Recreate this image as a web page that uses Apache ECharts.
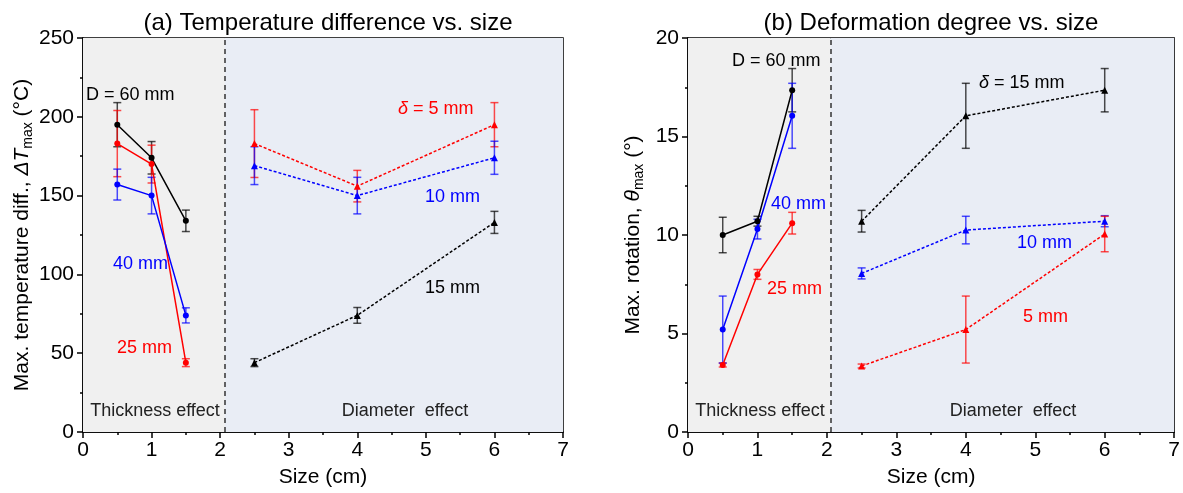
<!DOCTYPE html>
<html>
<head>
<meta charset="UTF-8">
<title>Temperature difference / deformation vs. size</title>
<script src="https://cdn.jsdelivr.net/npm/echarts@6/dist/echarts.min.js"></script>
<style>
  html, body { margin: 0; padding: 0; background: #fff; }
  #main { width: 1183px; height: 493px; }
</style>
</head>
<body>
<div id="main"></div>
<script type="text/javascript">
// x positions (cm)
var sizeThick = [0.5, 1, 1.5];   // thickness effect
var sizeDiam = [2.5, 4, 6];      // diameter effect

// (a) temperature difference (°C)
var tD60 = [195, 174, 134],  tD60Err = [14, 10.3, 6.8];
var tD25 = [183, 170, 44],   tD25Err = [21, 12, 2.5];
var tD40 = [157, 150, 74],   tD40Err = [9.8, 11.6, 4.8];
var tDel5 = [183, 156, 195], tDel5Err = [21.5, 10, 14];
var tDel10 = [169, 150, 174], tDel10Err = [12, 11.6, 10.5];
var tDel15 = [44, 74, 133],  tDel15Err = [2.5, 5, 7];

// (b) max rotation (°)
var rD60 = [10.0, 10.7, 17.35], rD60Err = [0.9, 0.25, 1.1];
var rD25 = [3.4, 8.0, 10.6],    rD25Err = [0.1, 0.25, 0.55];
var rD40 = [5.2, 10.3, 16.05],  rD40Err = [1.7, 0.5, 1.65];
var rDel15 = [10.7, 16.05, 17.35], rDel15Err = [0.55, 1.65, 1.1];
var rDel10 = [8.05, 10.25, 10.7],  rDel10Err = [0.28, 0.7, 0.28];
var rDel5 = [3.35, 5.2, 10.05],    rDel5Err = [0.1, 1.7, 0.9];

var RED = '#ff0000', BLUE = '#0000ff', BLACK = '#000000';
var FONT = 'Liberation Sans, Arial, sans-serif';

function pts(xs, ys) {
  return xs.map(function (x, i) { return [x, ys[i]]; });
}
function errPts(xs, ys, es) {
  return xs.map(function (x, i) { return [x, ys[i] - es[i], ys[i] + es[i]]; });
}

function lineSeries(idx, xs, ys, color, dashed) {
  return {
    type: 'line',
    xAxisIndex: idx, yAxisIndex: idx,
    data: pts(xs, ys),
    symbol: dashed ? 'triangle' : 'circle',
    symbolSize: dashed ? 7 : 6,
    itemStyle: { color: color },
    lineStyle: { color: color, width: 1.5, type: dashed ? [3, 2] : 'solid' },
    z: 5,
    silent: true
  };
}

function errSeries(idx, xs, ys, es, color) {
  return {
    type: 'custom',
    xAxisIndex: idx, yAxisIndex: idx,
    data: errPts(xs, ys, es),
    encode: { x: 0, y: [1, 2] },
    z: 4,
    silent: true,
    renderItem: function (params, api) {
      var x = api.value(0);
      var top = api.coord([x, api.value(2)]);
      var bot = api.coord([x, api.value(1)]);
      var w = 4;
      var st = { stroke: color, lineWidth: 1.5, opacity: 0.7 };
      return {
        type: 'group',
        children: [
          { type: 'line', shape: { x1: top[0], y1: top[1], x2: bot[0], y2: bot[1] }, style: st },
          { type: 'line', shape: { x1: top[0] - w, y1: top[1], x2: top[0] + w, y2: top[1] }, style: st },
          { type: 'line', shape: { x1: bot[0] - w, y1: bot[1], x2: bot[0] + w, y2: bot[1] }, style: st }
        ]
      };
    }
  };
}

function bgSeries(idx, split) {
  return {
    type: 'line',
    xAxisIndex: idx, yAxisIndex: idx,
    data: [],
    silent: true,
    markArea: {
      silent: true,
      label: { show: false },
      data: [
        [{ xAxis: 0, itemStyle: { color: '#f0f0f0' } }, { xAxis: split }],
        [{ xAxis: split, itemStyle: { color: '#e9edf5' } }, { xAxis: 7 }]
      ]
    },
    markLine: {
      silent: true,
      symbol: 'none',
      label: { show: false },
      lineStyle: { color: '#333', width: 1.5, type: [5, 4] },
      data: [{ xAxis: split }]
    }
  };
}

function xAxisOpt(idx) {
  return {
    type: 'value', gridIndex: idx, min: 0, max: 7, interval: 1,
    name: 'Size (cm)', nameLocation: 'middle', nameGap: 35,
    nameTextStyle: { color: '#000', fontSize: 21, fontFamily: FONT },
    axisLine: { lineStyle: { color: '#000', width: 1.5 } },
    axisTick: { length: 6, lineStyle: { color: '#000', width: 1.5 } },
    minorTick: { show: true, splitNumber: 2, length: 3, lineStyle: { color: '#000', width: 1.5 } },
    axisLabel: { color: '#000', fontSize: 21, fontFamily: FONT, margin: 8 },
    splitLine: { show: false }
  };
}

var richY = {
  a: { fontSize: 21, fontFamily: FONT, color: '#000', lineHeight: 26 },
  i: { fontSize: 21, fontFamily: FONT, color: '#000', fontStyle: 'italic', lineHeight: 26 },
  s: { fontSize: 14, fontFamily: FONT, color: '#000', lineHeight: 14, verticalAlign: 'bottom' }
};

function yAxisOpt(idx, max, interval, name) {
  return {
    type: 'value', gridIndex: idx, min: 0, max: max, interval: interval,
    name: name, nameLocation: 'middle', nameGap: 42,
    nameTextStyle: { rich: richY, fontSize: 21, fontFamily: FONT, color: '#000' },
    axisLine: { show: true, lineStyle: { color: '#000', width: 1.5 } },
    axisTick: { length: 6, lineStyle: { color: '#000', width: 1.5 } },
    minorTick: { show: true, splitNumber: 2, length: 3, lineStyle: { color: '#000', width: 1.5 } },
    axisLabel: { color: '#000', fontSize: 21, fontFamily: FONT, margin: 9 },
    splitLine: { show: false }
  };
}

function txt(x, y, text, color, align) {
  return {
    type: 'text', x: x, y: y, z: 100, silent: true,
    style: {
      text: text, fill: color || '#000', font: '18px ' + FONT,
      align: align || 'left', verticalAlign: 'middle',
      rich: {
        i: { fontStyle: 'italic', fontSize: 18, fontFamily: FONT, fill: color || '#000' }
      }
    }
  };
}

var myChart = echarts.init(document.getElementById('main'));

var option = {
  animation: false,
  backgroundColor: '#fff',
  title: [
    { text: '(a) Temperature difference vs. size', left: 323, top: 6, textAlign: 'center',
      textStyle: { fontSize: 24, fontWeight: 'normal', color: '#000', fontFamily: FONT } },
    { text: '(b) Deformation degree vs. size', left: 926, top: 6, textAlign: 'center',
      textStyle: { fontSize: 24, fontWeight: 'normal', color: '#000', fontFamily: FONT } }
  ],
  grid: [
    { left: 83, top: 38, width: 480, height: 395, show: true, borderColor: '#000', borderWidth: 1.5, backgroundColor: 'transparent' },
    { left: 688, top: 38, width: 492, height: 395, show: true, borderColor: '#000', borderWidth: 1.5, backgroundColor: 'transparent' }
  ],
  xAxis: [xAxisOpt(0), xAxisOpt(1)],
  yAxis: [
    yAxisOpt(0, 250, 50, '{a|Max. temperature diff., }{i|ΔT}{s|max}{a| (°C)}'),
    yAxisOpt(1, 20, 5, '{a|Max. rotation, }{i|θ}{s|max}{a| (°)}')
  ],
  series: [
    bgSeries(0, 2.07),
    bgSeries(1, 2.05),

    errSeries(0, sizeThick, tD60, tD60Err, BLACK),
    errSeries(0, sizeThick, tD25, tD25Err, RED),
    errSeries(0, sizeThick, tD40, tD40Err, BLUE),
    errSeries(0, sizeDiam, tDel5, tDel5Err, RED),
    errSeries(0, sizeDiam, tDel10, tDel10Err, BLUE),
    errSeries(0, sizeDiam, tDel15, tDel15Err, BLACK),
    lineSeries(0, sizeThick, tD60, BLACK, false),
    lineSeries(0, sizeThick, tD25, RED, false),
    lineSeries(0, sizeThick, tD40, BLUE, false),
    lineSeries(0, sizeDiam, tDel5, RED, true),
    lineSeries(0, sizeDiam, tDel10, BLUE, true),
    lineSeries(0, sizeDiam, tDel15, BLACK, true),

    errSeries(1, sizeThick, rD60, rD60Err, BLACK),
    errSeries(1, sizeThick, rD25, rD25Err, RED),
    errSeries(1, sizeThick, rD40, rD40Err, BLUE),
    errSeries(1, sizeDiam, rDel15, rDel15Err, BLACK),
    errSeries(1, sizeDiam, rDel10, rDel10Err, BLUE),
    errSeries(1, sizeDiam, rDel5, rDel5Err, RED),
    lineSeries(1, sizeThick, rD60, BLACK, false),
    lineSeries(1, sizeThick, rD25, RED, false),
    lineSeries(1, sizeThick, rD40, BLUE, false),
    lineSeries(1, sizeDiam, rDel15, BLACK, true),
    lineSeries(1, sizeDiam, rDel10, BLUE, true),
    lineSeries(1, sizeDiam, rDel5, RED, true)
  ],
  graphic: [
    // panel (a) labels
    txt(86, 95, 'D = 60 mm', BLACK),
    txt(113, 264, '40 mm', BLUE),
    txt(117, 348, '25 mm', RED),
    txt(398, 109, '{i|δ} = 5 mm', RED),
    txt(425, 197, '10 mm', BLUE),
    txt(425, 288, '15 mm', BLACK),
    txt(155, 411, 'Thickness effect', '#222', 'center'),
    txt(405, 411, 'Diameter  effect', '#222', 'center'),
    // panel (b) labels
    txt(732, 61, 'D = 60 mm', BLACK),
    txt(771, 204, '40 mm', BLUE),
    txt(767, 289, '25 mm', RED),
    txt(979, 83, '{i|δ} = 15 mm', BLACK),
    txt(1017, 243, '10 mm', BLUE),
    txt(1023, 317, '5 mm', RED),
    txt(760, 411, 'Thickness effect', '#222', 'center'),
    txt(1013, 411, 'Diameter  effect', '#222', 'center')
  ]
};

myChart.setOption(option);
</script>
</body>
</html>
